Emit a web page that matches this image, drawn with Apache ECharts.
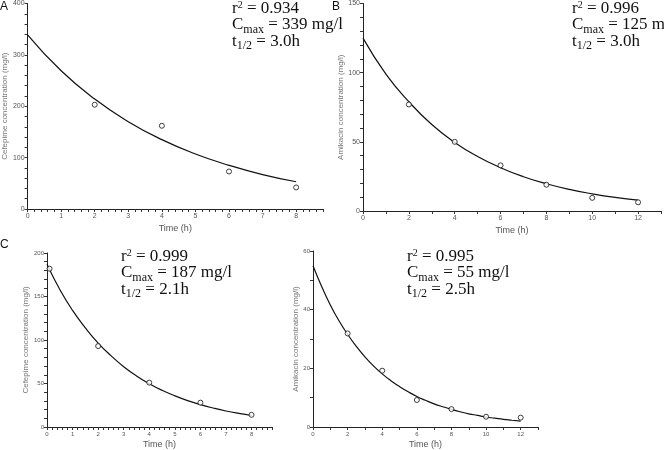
<!DOCTYPE html>
<html>
<head>
<meta charset="utf-8">
<script src="https://cdn.jsdelivr.net/npm/echarts@6/dist/echarts.min.js"></script>
<style>
  html, body { margin: 0; padding: 0; background: #fff; }
  #chart { width: 664px; height: 450px; }
</style>
</head>
<body>
<div id="chart"></div>
<script>
// measured points (time in h, concentration in mg/l)
const timeA = [2, 4, 6, 8];
const concA = [203, 162, 73, 42];
const timeB = [2, 4, 6, 8, 10, 12];
const concB = [77, 50, 33, 19, 9.5, 6.3];
const timeC = [0.1, 2, 4, 6, 8];
const concC = [182, 93, 51, 28, 14];
const timeD = [2, 4, 6, 8, 10, 12];
const concD = [31.9, 19.2, 9.2, 6.1, 3.5, 3.2];

// fitted curves
const fitHoursA = [0, 1, 2, 3, 4, 5, 6, 7, 8];
const fitA = [339, 269, 214, 170, 135, 107, 85, 67, 53];
const fitHoursB = [0, 1, 2, 3, 4, 5, 6, 7, 8, 9, 10, 11, 12];
const fitB = [125, 99, 79, 62.5, 49.6, 39.4, 31.3, 24.8, 19.7, 15.6, 12.4, 9.8, 7.8];
const fitHoursC = [0, 0.5, 1, 1.5, 2, 2.5, 3, 3.5, 4, 4.5, 5, 5.5, 6, 6.5, 7, 7.5, 8];
const fitC = [187, 158, 134, 114, 96.5, 82, 69.3, 58.7, 49.8, 42.2, 35.8, 30.3, 25.7, 21.8, 18.4, 15.6, 13.2];
const fitHoursD = [0, 0.5, 1, 1.5, 2, 2.5, 3, 3.5, 4, 4.5, 5, 5.5, 6, 6.5, 7, 7.5, 8, 8.5, 9, 9.5, 10, 10.5, 11, 11.5, 12];
const fitD = [55, 47.9, 41.6, 36.2, 31.6, 27.5, 23.9, 20.8, 18.1, 15.8, 13.8, 12.0, 10.4, 9.1, 7.9, 6.9, 6.0, 5.2, 4.5, 3.95, 3.4, 3.0, 2.6, 2.3, 2.0];

// panel annotations
const statsA = ['0.934', '339', '3.0'];
const statsB = ['0.996', '125', '3.0'];
const statsC = ['0.999', '187', '2.1'];
const statsD = ['0.995', '55', '2.5'];

const zip = (xs, ys) => xs.map((x, i) => [x, ys[i]]);

let chart = echarts.init(document.getElementById('chart'));

function every(step) {
    return function (v) {
        let r = Math.round(v / step) * step;
        return Math.abs(v - r) < 1e-6 ? String(Math.round(r)) : '';
    };
}

function xAxis(idx, max, interval, labelStep, fs, gap) {
    return {
        gridIndex: idx, type: 'value', min: 0, max: max, interval: interval,
        axisLine: { lineStyle: { color: '#222', width: 1 } },
        axisTick: { length: 3, lineStyle: { color: '#333' } },
        splitLine: { show: false },
        axisLabel: { formatter: every(labelStep), fontSize: fs, color: '#555', margin: 4, fontFamily: 'Liberation Sans' },
        name: 'Time (h)', nameLocation: 'middle', nameGap: gap,
        nameTextStyle: { fontSize: 9, color: '#555', fontFamily: 'Liberation Sans' }
    };
}

function yAxis(idx, max, interval, labelStep, fs, name, gap) {
    return {
        gridIndex: idx, type: 'value', min: 0, max: max, interval: interval,
        axisLine: { show: true, lineStyle: { color: '#222', width: 1 } },
        axisTick: { show: true, length: 3, lineStyle: { color: '#333' } },
        splitLine: { show: false },
        axisLabel: { formatter: every(labelStep), fontSize: fs, color: '#555', margin: 3, fontFamily: 'Liberation Sans' },
        name: name, nameLocation: 'middle', nameGap: gap,
        nameTextStyle: { fontSize: 8, color: '#777', fontFamily: 'Liberation Sans' }
    };
}

function curve(idx, hours, vals) {
    return {
        type: 'line', xAxisIndex: idx, yAxisIndex: idx, data: zip(hours, vals),
        smooth: true, showSymbol: false, silent: true,
        lineStyle: { color: '#111', width: 1.2 }
    };
}

function points(idx, xs, ys) {
    return {
        type: 'scatter', xAxisIndex: idx, yAxisIndex: idx, data: zip(xs, ys),
        symbol: 'circle', symbolSize: 5, z: 5,
        itemStyle: { color: '#fff', borderColor: '#111', borderWidth: 1 }
    };
}

// text measuring for sub/superscripts
const ctx = document.createElement('canvas').getContext('2d');
function textW(t, size) {
    ctx.font = size + 'px "Liberation Serif"';
    return ctx.measureText(t).width;
}

function piece(x, y, t, size) {
    return {
        type: 'text', x: x, y: y, z: 10,
        style: { text: t, fontSize: size, fontFamily: 'Liberation Serif', fill: '#111', verticalAlign: 'top' }
    };
}

// one line = base text, small raised/lowered part, rest of base text
function scriptLine(x, y, head, small, dy, tail) {
    let w1 = textW(head, 17);
    let w2 = textW(small, small === '2' ? 10 : 12);
    return [
        piece(x, y, head, 17),
        piece(x + w1, y + dy, small, small === '2' ? 10 : 12),
        piece(x + w1 + w2, y, tail, 17)
    ];
}

function stats(x, y, s) {
    return [].concat(
        scriptLine(x, y, 'r', '2', 0, ' = ' + s[0]),
        scriptLine(x, y + 16.5, 'C', 'max', 7, ' = ' + s[1] + ' mg/l'),
        scriptLine(x, y + 33, 't', '1/2', 7, ' = ' + s[2] + 'h')
    );
}

function letter(x, y, t) {
    return { type: 'text', x: x, y: y, style: { text: t, fontSize: 12, fontFamily: 'Liberation Sans', fill: '#111' } };
}

let option = {
    animation: false,
    backgroundColor: '#fff',
    grid: [
        { left: 26, top: 3, width: 297, height: 206 },
        { left: 363, top: 3, width: 298, height: 208 },
        { left: 47, top: 253, width: 225, height: 175 },
        { left: 313, top: 251, width: 225, height: 176 }
    ],
    xAxis: [
        xAxis(0, 8.8, 0.2, 1, 7, 15),
        xAxis(1, 13, 1, 2, 7, 15),
        xAxis(2, 8.8, 0.2, 1, 6, 13),
        xAxis(3, 13, 1, 2, 6, 13)
    ],
    yAxis: [
        yAxis(0, 400, 20, 100, 7, 'Cefepime concentration (mg/l)', 17),
        yAxis(1, 150, 10, 50, 7, 'Amikacin concentration (mg/l)', 16),
        yAxis(2, 200, 10, 50, 6, 'Cefepime concentration (mg/l)', 14),
        yAxis(3, 60, 10, 20, 6, 'Amikacin concentration (mg/l)', 12)
    ],
    series: [
        curve(0, fitHoursA, fitA), points(0, timeA, concA),
        curve(1, fitHoursB, fitB), points(1, timeB, concB),
        curve(2, fitHoursC, fitC), points(2, timeC, concC),
        curve(3, fitHoursD, fitD), points(3, timeD, concD)
    ],
    graphic: [
        letter(0, 1, 'A'), letter(332, 1, 'B'), letter(0, 239, 'C')
    ].concat(stats(232, 0, statsA), stats(572, 0, statsB), stats(121, 248, statsC), stats(407, 248, statsD))
};

chart.setOption(option);
</script>
</body>
</html>
